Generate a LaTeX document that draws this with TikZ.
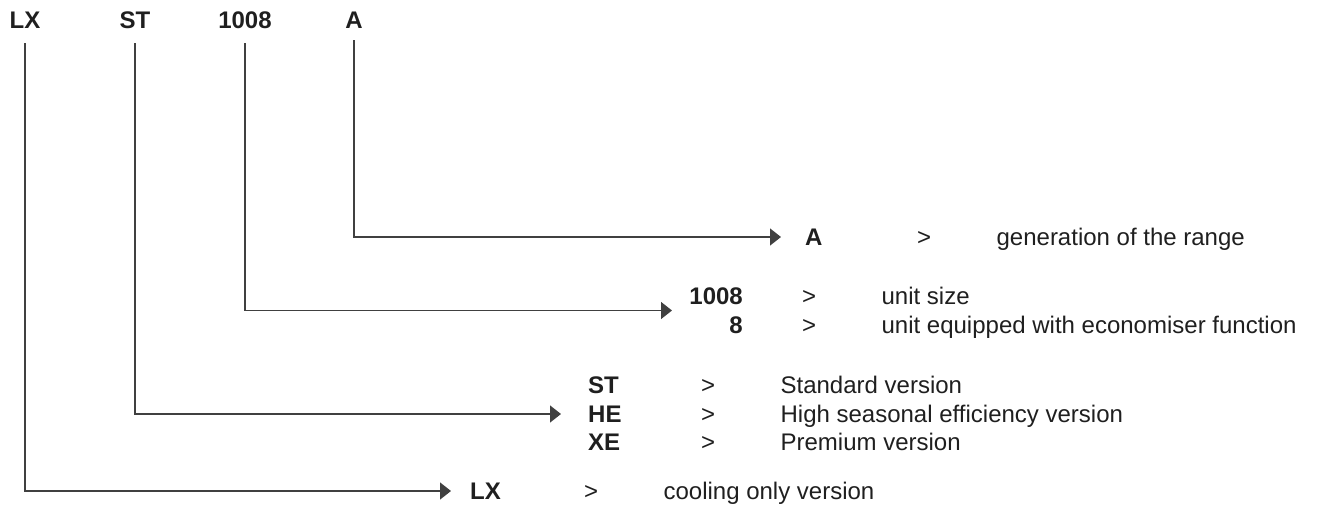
\documentclass[tikz,border=0pt]{standalone}
\usepackage{fontspec}
\setmainfont{Liberation Sans}
\usetikzlibrary{arrows.meta,positioning}

\begin{document}
\begin{tikzpicture}[x=1pt,y=-1pt,node distance=65pt,
	txt/.style={inner sep=0pt,text height=17.2pt,text depth=0pt,text=black!88,font=\fontsize{24}{28}\selectfont},
	key/.style={txt,font=\fontsize{24}{28}\selectfont\bfseries},
	gt/.style={txt,anchor=west},
	link/.style={draw=black!75,line width=1.3pt,-{Triangle[length=11pt,width=17pt]}}]
	\useasboundingbox (0,0) rectangle (1317,504);

	% code letters on top
	\node[key] (lx-top) at (25,20) {LX};
	\node[key] (st-top) at (135,20) {ST};
	\node[key] (size-top) at (245,20) {1008};
	\node[key] (a-top) at (354,20) {A};

	% generation
	\node[key,anchor=west] (a-key) at (805,237) {A};
	\node[gt] (a-gt) at (917,237) {>};
	\node[txt] (a-txt) [right=of a-gt] {generation of the range};

	% size
	\node[key,anchor=east] (size-key) at (743,296) {1008};
	\node[gt] (size-gt) at (802,296) {>};
	\node[txt] (size-txt) [right=of size-gt] {unit size};
	\node[key,anchor=east] (eco-key) at (743,325) {8};
	\node[gt] (eco-gt) at (802,325) {>};
	\node[txt] (eco-txt) [right=of eco-gt] {unit equipped with economiser function};
	\coordinate (size-in) at (672,310.5);

	% versions
	\node[key,anchor=west] (st-key) at (588,385) {ST};
	\node[gt] (st-gt) at (701,385) {>};
	\node[txt] (st-txt) [right=of st-gt] {Standard version};
	\node[key,anchor=west] (he-key) at (588,414) {HE};
	\node[gt] (he-gt) at (701,414) {>};
	\node[txt] (he-txt) [right=of he-gt] {High seasonal efficiency version};
	\node[key,anchor=west] (xe-key) at (588,442) {XE};
	\node[gt] (xe-gt) at (701,442) {>};
	\node[txt] (xe-txt) [right=of xe-gt] {Premium version};

	% cooling only
	\node[key,anchor=west] (lx-key) at (470,491) {LX};
	\node[gt] (lx-gt) at (584,491) {>};
	\node[txt] (lx-txt) [right=of lx-gt] {cooling only version};

	\draw[link,shorten <=11.4pt,shorten >=24pt] (a-top) |- (a-key);
	\draw[link,shorten <=14.4pt] (size-top) |- (size-in);
	\draw[link,shorten <=14.4pt,shorten >=27pt] (st-top) |- (he-key);
	\draw[link,shorten <=14.4pt,shorten >=19pt] (lx-top) |- (lx-key);
\end{tikzpicture}
\end{document}
